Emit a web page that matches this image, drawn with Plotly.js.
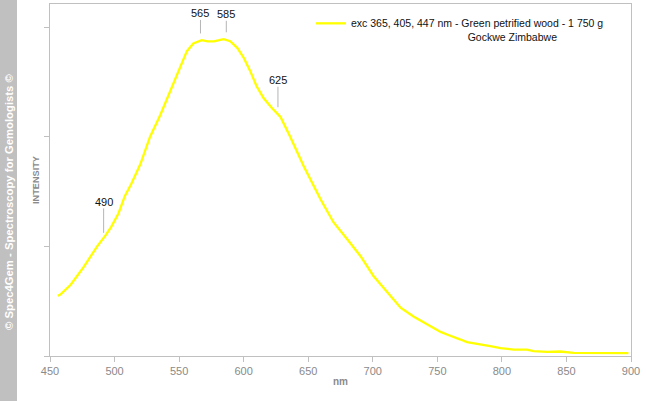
<!DOCTYPE html>
<html>
<head>
<meta charset="utf-8">
<script src="https://cdn.plot.ly/plotly-3.0.1.min.js"></script>
<style>
  html, body { margin: 0; padding: 0; background: #ffffff; }
  #chart { width: 646px; height: 401px; }
</style>
</head>
<body>
<div id="chart"></div>
<script>
// Wavelength (nm) and relative intensity
const wavelengths = [456, 458, 466, 476, 486.5, 490, 493, 497.5, 503, 508, 513, 520, 527.5, 535.5, 543, 551, 556, 561, 567.5, 572, 577, 581, 584.5, 589.5, 595, 600, 605, 610, 615.5, 622, 628.5, 636, 646.5, 659.5, 669.5, 680.5, 690.5, 700.5, 711.5, 721.5, 731.5, 742.5, 752.5, 757.5, 762.5, 768, 773, 778, 783, 791, 799, 809, 819.5, 824.5, 835, 845, 855.5, 866, 876.5, 886.5, 898];
const intensity = [0.55, 0.56, 0.65, 0.81, 1.00, 1.05, 1.10, 1.18, 1.30, 1.46, 1.57, 1.75, 2.00, 2.20, 2.41, 2.64, 2.78, 2.85, 2.88, 2.87, 2.87, 2.88, 2.89, 2.87, 2.81, 2.72, 2.60, 2.46, 2.35, 2.26, 2.18, 2.00, 1.73, 1.43, 1.22, 1.06, 0.91, 0.73, 0.58, 0.44, 0.36, 0.29, 0.22, 0.196, 0.171, 0.150, 0.126, 0.114, 0.102, 0.089, 0.071, 0.059, 0.059, 0.044, 0.038, 0.041, 0.029, 0.029, 0.023, 0.026, 0.026];
const peakLabels = [490, 565, 585, 625];
const xTicks = [450, 500, 550, 600, 650, 700, 750, 800, 850, 900];
const seriesName = "exc 365, 405, 447 nm - Green petrified wood - 1 750 g";
const seriesLocality = "Gockwe Zimbabwe";
const xTitle = "nm";
const yTitle = "INTENSITY";
const watermark = "© Spec4Gem - Spectroscopy for Gemologists ©";

// label offsets (pixels): [distance of text above the curve, gap between leader and curve]
const labelOffsets = {490: [-39, 8], 565: [-28, 8], 585: [-25, 7], 625: [-32, 5]};

function interp(x) {
  for (let i = 0; i < wavelengths.length - 1; i++) {
    if (x >= wavelengths[i] && x <= wavelengths[i + 1]) {
      const t = (x - wavelengths[i]) / (wavelengths[i + 1] - wavelengths[i]);
      return intensity[i] + t * (intensity[i + 1] - intensity[i]);
    }
  }
  return intensity[intensity.length - 1];
}

const W = 646, H = 401;
const M = {l: 50, r: 15, t: 4, b: 45};
const pw = W - M.l - M.r, ph = H - M.t - M.b;
const px2x = p => (p - M.l) / pw;
const py2y = p => (H - M.b - p) / ph;

const grey = '#8a8a8a';
const axisCol = '#c0c0c0';
const nbsp = '\u00a0';

const trace = {
  x: wavelengths,
  y: intensity,
  type: 'scatter',
  mode: 'lines',
  name: seriesName + '<br>' + nbsp.repeat(40) + seriesLocality,
  line: {color: '#ffff00', width: 2.3, shape: 'linear'}
};

const annotations = peakLabels.map(p => ({
  x: p, y: interp(p), xref: 'x', yref: 'y',
  text: String(p),
  showarrow: true, arrowhead: 0, arrowwidth: 1, arrowcolor: '#b5b5b5',
  ax: 0, ay: labelOffsets[p][0], standoff: labelOffsets[p][1],
  xshift: 2,
  font: {family: 'Liberation Sans, Arial, sans-serif', size: 11, color: '#111'},
  borderpad: 0
}));

annotations.push({
  xref: 'paper', yref: 'paper',
  x: px2x(9), y: py2y(202),
  text: '<b>' + watermark + '</b>',
  textangle: -90, showarrow: false,
  xanchor: 'center', yanchor: 'middle',
  font: {family: 'Liberation Sans, Arial, sans-serif', size: 11.3, color: '#ffffff'}
});

const layout = {
  width: W, height: H,
  margin: {l: M.l, r: M.r, t: M.t, b: M.b, pad: 0},
  paper_bgcolor: '#ffffff',
  plot_bgcolor: '#ffffff',
  showlegend: true,
  legend: {
    x: px2x(311), y: py2y(10), xanchor: 'left', yanchor: 'top',
    bgcolor: 'rgba(0,0,0,0)', valign: 'top',
    font: {family: 'Liberation Sans, Arial, sans-serif', size: 10.5, color: '#111'}
  },
  xaxis: {
    range: [450, 900],
    tickvals: xTicks,
    ticktext: xTicks.map(String),
    ticks: 'outside', ticklen: 5, tickcolor: axisCol, tickwidth: 1,
    showline: true, linecolor: axisCol, linewidth: 1, mirror: true,
    showgrid: false, zeroline: false,
    tickfont: {family: 'Liberation Sans, Arial, sans-serif', size: 11, color: grey},
    title: {text: '<b>' + xTitle + '</b>', standoff: 1,
            font: {family: 'Liberation Sans, Arial, sans-serif', size: 10, color: grey}}
  },
  yaxis: {
    range: [0, 3.21],
    tick0: 0, dtick: 1,
    ticks: 'outside', ticklen: 5, tickcolor: axisCol, tickwidth: 1,
    showticklabels: false,
    showline: true, linecolor: axisCol, linewidth: 1, mirror: true,
    showgrid: false, zeroline: false,
    title: {text: '<b>' + yTitle + '</b>', standoff: 2,
            font: {family: 'Liberation Sans, Arial, sans-serif', size: 9.2, color: grey}}
  },
  shapes: [{
    type: 'rect', xref: 'paper', yref: 'paper', layer: 'below',
    x0: px2x(0), x1: px2x(17), y0: py2y(H), y1: py2y(0),
    fillcolor: '#c0c0c0', line: {width: 0}
  }],
  annotations: annotations
};

Plotly.newPlot('chart', [trace], layout, {displayModeBar: false, staticPlot: true});
</script>
</body>
</html>
